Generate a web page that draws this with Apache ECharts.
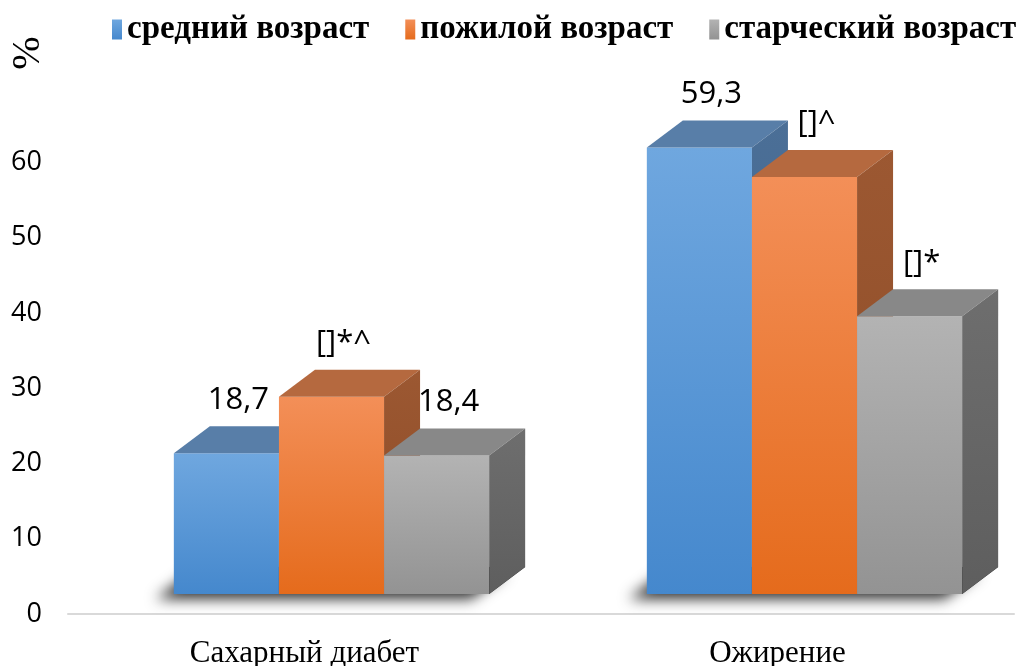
<!DOCTYPE html>
<html lang="ru">
<head>
    <meta charset="UTF-8">
    <title>Сахарный диабет и ожирение по возрасту</title>
    <style>
        html, body { margin: 0; padding: 0; background: #fff; }
        #chart { width: 1032px; height: 666px; }
    </style>
</head>
<body>
<div id="chart"></div>
<script src="https://cdn.jsdelivr.net/npm/echarts@6/dist/echarts.min.js"></script>
<script>
    'use strict';
    // данные
    let categories = ['Сахарный диабет', 'Ожирение'];
    let seriesNames = ['средний возраст', 'пожилой возраст', 'старческий возраст'];
    let middleAge = [18.7, 59.3];
    let elderlyAge = [26.2, 55.4];
    let senileAge = [18.4, 36.9];
    let middleLabels = ['18,7', '59,3'];
    let elderlyLabels = ['[]*^', '[]^'];
    let senileLabels = ['18,4', '[]*'];
    let yTicks = [0, 10, 20, 30, 40, 50, 60];

    let values = [middleAge, elderlyAge, senileAge];
    let labels = [middleLabels, elderlyLabels, senileLabels];

    // 3D look
    const DX = 36, DY = -27;         // depth of a bar
    const SHIFT_X = 27, SHIFT_Y = -20; // bars sit inside the floor
    const colors = [
        {front: ['#6FA7DF', '#4588CD'], top: '#587EA8', side: ['#4B6F97', '#3F6086']},
        {front: ['#F38F58', '#E56B1C'], top: '#B5693F', side: ['#9C5832', '#8C4B26']},
        {front: ['#B3B3B3', '#939393'], top: '#888888', side: ['#6E6E6E', '#5E5E5E']}
    ];

    function grad(a, b) {
        return new echarts.graphic.LinearGradient(0, 0, 0, 1, [
            {offset: 0, color: a}, {offset: 1, color: b}
        ]);
    }

    function barGeom(api, ci, v, si) {
        let base = api.coord([ci, 0]);
        let top = api.coord([ci, v]);
        let bw = api.size([1, 0])[0] / 4.5;
        let x0 = base[0] + SHIFT_X - 1.5 * bw + si * bw;
        return {x0: x0, x1: x0 + bw, bw: bw, yb: base[1] + SHIFT_Y, yt: top[1] + SHIFT_Y};
    }

    function makeRender(si) {
        return function (params, api) {
            let ci = api.value(0);
            let g = barGeom(api, ci, api.value(1), si);
            let c = colors[si];
            return {
                type: 'group',
                children: [
                    {
                        type: 'rect', z2: si * 10,
                        shape: {x: g.x0, y: g.yt, width: g.bw, height: g.yb - g.yt},
                        style: {fill: grad(c.front[0], c.front[1])}
                    },
                    {
                        type: 'polygon', z2: si * 10,
                        shape: {points: [[g.x0, g.yt], [g.x1, g.yt], [g.x1 + DX, g.yt + DY], [g.x0 + DX, g.yt + DY]]},
                        style: {fill: c.top}
                    },
                    {
                        type: 'polygon', z2: si * 10,
                        shape: {points: [[g.x1, g.yt], [g.x1 + DX, g.yt + DY], [g.x1 + DX, g.yb + DY], [g.x1, g.yb]]},
                        style: {fill: grad(c.side[0], c.side[1])}
                    },
                    {
                        type: 'text', z2: 100,
                        x: g.x0 + g.bw / 2 + 12, y: g.yt + DY - 11,
                        style: {
                            text: labels[si][ci], fill: '#000',
                            font: '31px "Open Sans"', align: 'center', verticalAlign: 'bottom'
                        }
                    }
                ]
            };
        };
    }

    // floor shadow under each group of bars
    function renderShadow(params, api) {
        let ci = api.value(0);
        let first = barGeom(api, ci, 0, 0);
        let last = barGeom(api, ci, 0, 2);
        return {
            type: 'polygon',
            shape: {points: [[first.x0, first.yb], [last.x1, last.yb], [last.x1 + DX, last.yb + DY], [first.x0 + DX, first.yb + DY]]},
            style: {
                fill: 'rgba(0,0,0,0.9)',
                shadowBlur: 14, shadowColor: 'rgba(0,0,0,0.9)',
                shadowOffsetX: -18, shadowOffsetY: 5
            }
        };
    }

    let series = [{
        type: 'custom', name: 'shadow', z: 1, silent: true,
        renderItem: renderShadow,
        data: categories.map((c, i) => [i, 0])
    }];
    seriesNames.forEach(function (name, si) {
        series.push({
            type: 'custom', name: name, z: 2,
            renderItem: makeRender(si),
            itemStyle: {color: grad(colors[si].front[0], colors[si].front[1])},
            encode: {x: 0, y: 1},
            data: values[si].map((v, i) => [i, v])
        });
    });

    let chart = echarts.init(document.getElementById('chart'));
    chart.setOption({
        animation: false,
        grid: {left: 68, right: 18, top: 87, bottom: 52, outerBoundsMode: 'none'},
        legend: {
            data: seriesNames,
            top: 13, left: 112, right: 0, padding: 0,
            itemWidth: 10, itemHeight: 20, itemGap: 36,
            icon: 'rect',
            textStyle: {fontFamily: '"Liberation Serif"', fontWeight: 'bold', fontSize: 33, color: '#000'}
        },
        xAxis: {
            type: 'category',
            data: categories,
            axisLine: {lineStyle: {color: '#D9D9D9', width: 2}},
            axisTick: {show: false},
            axisLabel: {fontFamily: '"Liberation Serif"', fontSize: 31, color: '#000', margin: 24}
        },
        yAxis: {
            type: 'value',
            min: 0, max: 70, interval: 10,
            axisLine: {show: false},
            axisTick: {show: false},
            splitLine: {show: false},
            axisLabel: {
                fontFamily: '"Open Sans"', fontSize: 27, color: '#000', margin: 26,
                formatter: v => yTicks.indexOf(v) >= 0 ? String(v) : ''
            }
        },
        graphic: [{
            type: 'text', x: 28, y: 53, rotation: Math.PI / 2,
            style: {text: '%', font: '40px "Liberation Serif"', fill: '#000', align: 'center', verticalAlign: 'middle'}
        }],
        series: series
    });
</script>
</body>
</html>
